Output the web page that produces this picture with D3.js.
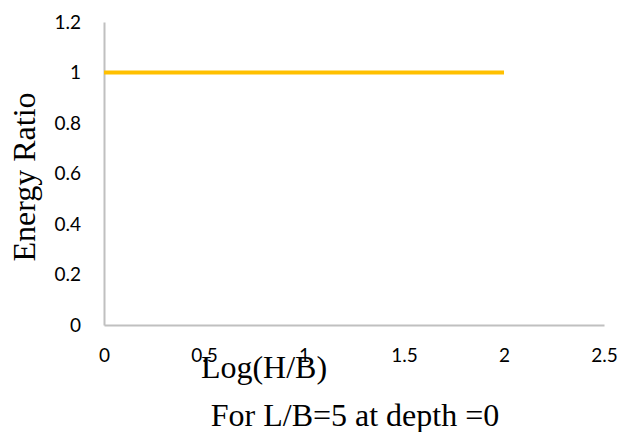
<!DOCTYPE html>
<html>
<head>
<meta charset="utf-8">
<script src="https://cdn.jsdelivr.net/npm/d3@7"></script>
<style>
  body { margin: 0; background: #fff; }
  .tick text { font-family: Lato, "Open Sans", sans-serif; font-size: 19px; fill: #000; }
  .lbl { font-family: "Liberation Serif", "Times New Roman", serif; font-size: 32px; fill: #000; }
</style>
</head>
<body>
<div class="chart"></div>
<script>
// data
var xValues = [0, 0.3, 0.6, 1, 1.3, 1.6, 2];
var energyRatio = [1, 1, 1, 1, 1, 1, 1];
var xTicks = [0, 0.5, 1, 1.5, 2, 2.5];
var yTicks = [0, 0.2, 0.4, 0.6, 0.8, 1, 1.2];

var width = 622, height = 432;

var svg = d3.select(".chart").append("svg")
    .attr("width", width)
    .attr("height", height);

var x = d3.scaleLinear().domain([0, 2.5]).range([104, 604]);
var y = d3.scaleLinear().domain([0, 1.2]).range([325, 22]);

/************* axes ***************/
var xAxis = svg.append("g")
    .attr("transform", "translate(0," + y(0) + ")")
    .call(d3.axisBottom(x).tickValues(xTicks).tickSize(0).tickPadding(24)
        .tickFormat(function(d){ return String(d); }));
xAxis.select(".domain").attr("stroke", "#c0c0c0").attr("stroke-width", 2);

var yAxis = svg.append("g")
    .attr("transform", "translate(" + x(0) + ",0)")
    .call(d3.axisLeft(y).tickValues(yTicks).tickSize(0).tickPadding(23)
        .tickFormat(function(d){ return String(d); }));
yAxis.select(".domain").attr("stroke", "#c0c0c0").attr("stroke-width", 2);

/************* series ***************/
var line = d3.line()
    .x(function(d, i){ return x(xValues[i]); })
    .y(function(d){ return y(d); });

svg.append("path")
    .datum(energyRatio)
    .attr("fill", "none")
    .attr("stroke", "#FFC000")
    .attr("stroke-width", 4)
    .attr("d", line);

/************* labels ***************/
svg.append("text")
    .attr("class", "lbl")
    .attr("text-anchor", "middle")
    .attr("transform", "translate(35,177) rotate(-90)")
    .text("Energy Ratio");

svg.append("text")
    .attr("class", "lbl")
    .attr("text-anchor", "middle")
    .attr("x", 264)
    .attr("y", 378)
    .text("Log(H/B)");

svg.append("text")
    .attr("class", "lbl")
    .attr("text-anchor", "middle")
    .attr("x", 355)
    .attr("y", 426)
    .text("For L/B=5 at depth =0");
</script>
</body>
</html>
